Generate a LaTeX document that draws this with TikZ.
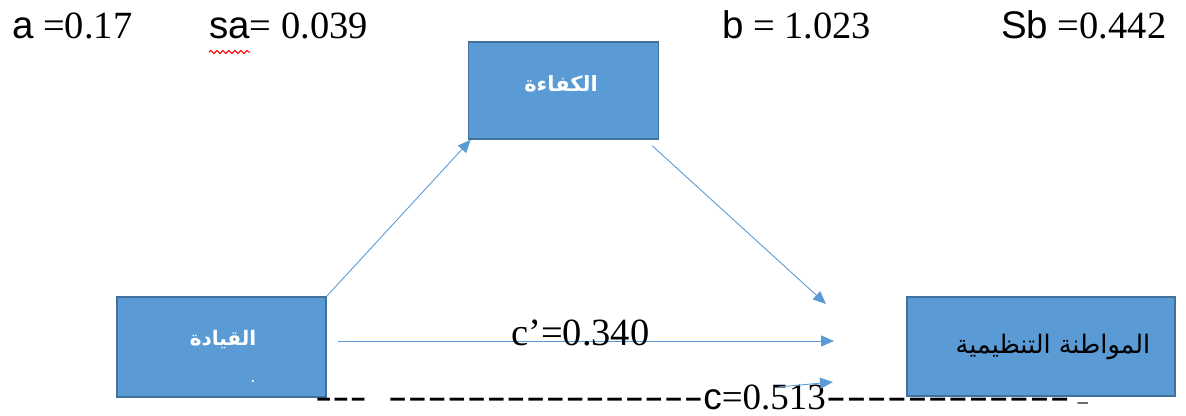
\documentclass[tikz,border=0pt]{standalone}
\usepackage{graphicx}
\usepackage{fontspec}
\setmainfont{Liberation Serif}
\setsansfont{Liberation Sans}
\newfontfamily\arabicfont[Script=Arabic]{DejaVu Sans}
\TeXXeTstate=1
\usetikzlibrary{arrows.meta,decorations.pathmorphing}
\definecolor{boxblue}{HTML}{5B9BD5}
\definecolor{boxedge}{HTML}{41719C}
\newcommand\hyps[1]{\foreach \i in {1,...,#1}{\mbox{\sffamily -}}}
\begin{document}
\begin{tikzpicture}[x=1pt,y=-1pt,
  box/.style={draw=boxedge, line width=1.5pt, fill=boxblue, inner sep=0pt},
  conn/.style={draw=boxblue, line width=0.9pt, -{Triangle[length=13pt,width=11pt]}},
  lbl/.style={inner sep=0pt, anchor=base west, font=\fontsize{38.5}{40}\selectfont},
  artxt/.style={inner sep=0pt},
]
\useasboundingbox (0,0) rectangle (1186,415);

% boxes
\node[box, minimum width=190pt, minimum height=97pt] (K) at (563.5,90.5) {};
\node[box, minimum width=209pt, minimum height=100pt] (Q) at (221.5,347) {};
\node[box, minimum width=268pt, minimum height=99pt] (M) at (1041,346.5) {};

% box texts
\node[artxt, text=white, font=\fontsize{21}{24}\selectfont] (Kt) at (561,84) {\arabicfont\bfseries\beginR الكفاءة\endR};
\node[artxt, text=white, font=\fontsize{20}{24}\selectfont] (Qt) at (223,340) {\arabicfont\bfseries\beginR القيادة\endR};
\node[artxt, text=white, font=\fontsize{16}{18}\selectfont] (Qd) at (253,382) {\arabicfont .};
\node[artxt, text=black, font=\fontsize{25.5}{30}\selectfont] (Mt) at (1053,347) {\arabicfont\beginR المواطنة التنظيمية\endR};

% connector end points
\coordinate (t1) at (826,304);
\coordinate (c1) at (338,341);
\coordinate (c2) at (834,341);
\coordinate (s1) at (778,387);
\coordinate (s2) at (833,382);

% connectors
\draw[conn] (Q.north east) -- ([xshift=3pt]K.south west);
\draw[conn] ([xshift=-7pt,yshift=-6pt]K.south east) -- (t1);
\draw[conn] (c1) -- (c2);

% top labels
\node[lbl] (la) at (12,38) {{\sffamily a} =0.17};
\node[lbl] (lsa) at (209,38) {{\sffamily sa}= 0.039};
\node[lbl] (lb) at (722,38) {{\sffamily b} = 1.023};
\node[lbl] (lsb) at (1001,38) {{\sffamily Sb} =0.442};
\draw[red, line width=1pt, decorate, decoration={snake, amplitude=1.6pt, segment length=6pt}] (209,52) -- (250,52);

% path labels
\node[lbl] (lc1) at (511,345) {c’=0.340};
\node[lbl, font=\fontsize{37}{40}\selectfont] (lc) at (315,409) {\scalebox{1.4}[1]{\hyps{3}}\hspace{21pt}\scalebox{1.6}[1]{\hyps{16}}{\sffamily c}=0.513\scalebox{1.65}[1]{\hyps{12}}\hspace{8pt}\raisebox{9pt}{\sffamily\fontsize{18}{18}\selectfont\_}};

\draw[conn] (s1) -- (s2);
\end{tikzpicture}
\end{document}
